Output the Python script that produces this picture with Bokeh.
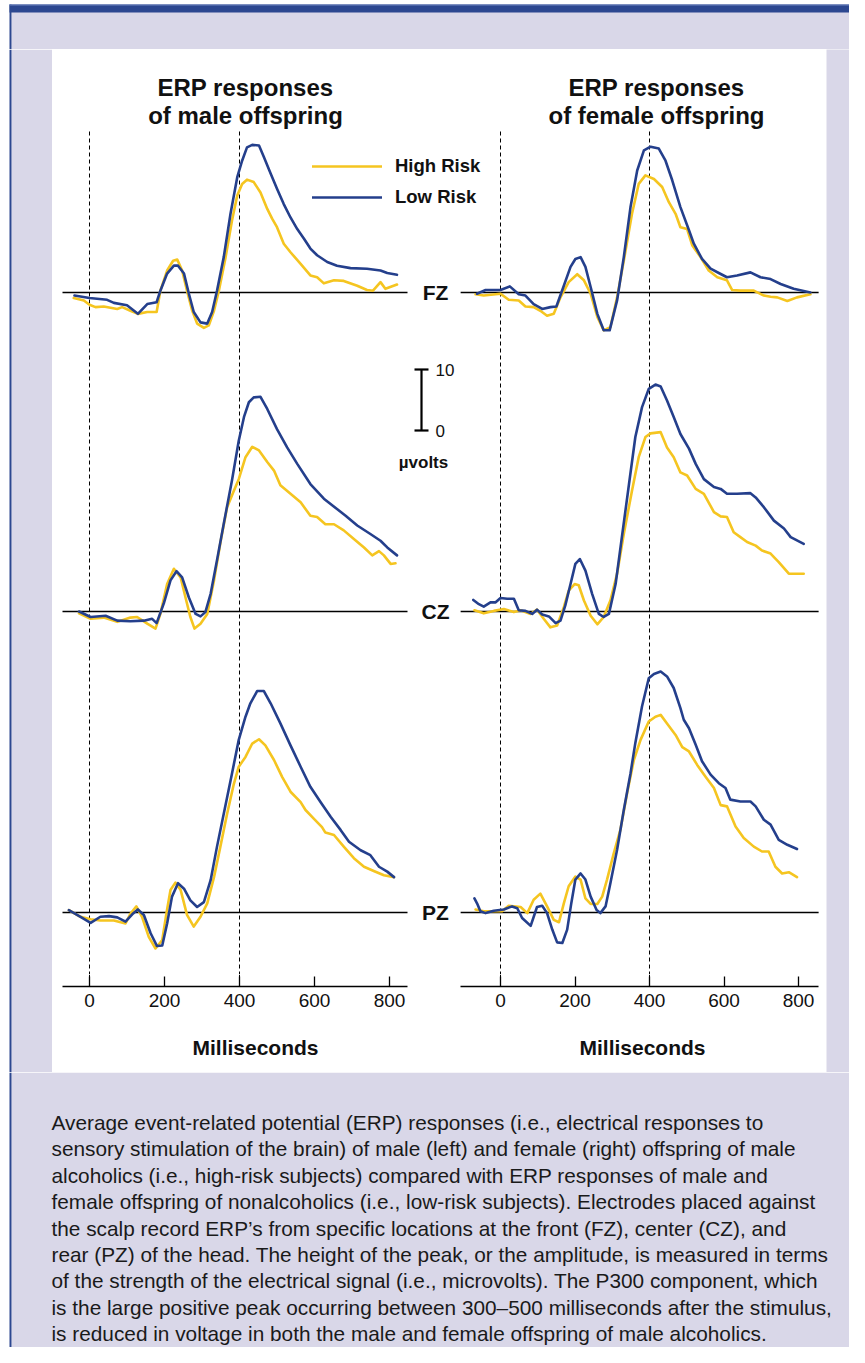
from bokeh.plotting import figure
from bokeh.models import Range1d, LinearAxis, FixedTicker, Legend, LegendItem, Span
from bokeh.layouts import column, row
from bokeh.embed import file_html
from bokeh.resources import INLINE
from bokeh.core.properties import value

# ---------------------------------------------------------------- data
TICKS_MS = [0, 200, 400, 600, 800]
MARKERS_MS = [0, 400]
ELECTRODES = ["FZ", "CZ", "PZ"]
GROUPS = ["High Risk", "Low Risk"]
TITLE_MALE = ["ERP responses", "of male offspring"]
TITLE_FEMALE = ["ERP responses", "of female offspring"]
SCALE_UV = [0, 10]
SCALE_LABELS = ["0", "10"]
UNIT_LABEL = "\u00b5volts"
X_LABEL = "Milliseconds"

male_fz_high_ms = [-42, -15, 0, 16, 38, 74, 87, 109, 129, 154, 179, 189, 207, 223, 234, 247, 260, 274, 287, 305,
                   318, 332, 345, 363, 380, 394, 407, 420, 438, 456, 474, 487, 500, 518, 536, 563, 589, 607, 625,
                   652, 678, 714, 740, 756, 776, 789, 820]
male_fz_high_uv = [-0.9, -1.3, -2.0, -2.4, -2.3, -2.7, -2.4, -3.0, -3.5, -3.2, -3.2, 0.3, 3.6, 5.2, 5.4, 3.6, 0.3,
                   -3.0, -5.1, -5.8, -5.4, -3.0, 0.3, 5.8, 11.8, 15.9, 17.8, 18.5, 18.1, 16.4, 13.7, 12.1, 10.7, 8.0,
                   6.6, 4.7, 2.8, 2.5, 1.5, 2.0, 1.9, 1.1, 0.4, 0.3, 1.7, 0.6, 1.3]
male_fz_low_ms = [-40, 0, 47, 65, 100, 129, 154, 179, 189, 207, 225, 236, 252, 265, 278, 296, 314, 327, 340, 358,
                  376, 394, 407, 420, 434, 452, 465, 483, 500, 518, 536, 554, 572, 589, 607, 634, 660, 696, 740,
                  776, 794, 820]
male_fz_low_uv = [-0.5, -0.9, -1.2, -1.7, -2.1, -3.5, -1.9, -1.6, 0.3, 3.1, 4.4, 4.4, 3.1, -0.2, -3.2, -4.9, -5.1,
                  -3.2, 0.3, 5.8, 12.9, 18.9, 21.6, 23.8, 24.2, 24.1, 22.2, 19.5, 17.0, 14.5, 12.3, 10.4, 8.8, 7.2,
                  6.1, 5.0, 4.4, 4.0, 3.9, 3.6, 3.2, 2.9]

female_fz_high_ms = [-67, -45, 0, 22, 49, 67, 89, 107, 125, 143, 161, 183, 206, 224, 242, 260, 277, 295, 313, 331,
                     353, 371, 389, 412, 434, 452, 470, 483, 501, 515, 537, 559, 582, 608, 622, 644, 680, 707, 725,
                     743, 770, 796, 832]
female_fz_high_uv = [-0.3, -0.5, -0.2, -1.2, -1.3, -2.3, -2.4, -3.0, -3.8, -3.5, -0.8, 1.7, 3.0, 2.0, -0.2, -4.0,
                     -6.2, -5.7, -0.8, 5.2, 12.9, 17.8, 19.2, 18.6, 17.3, 14.8, 12.9, 10.7, 10.4, 7.7, 5.8, 3.6, 2.5,
                     2.0, 0.4, 0.3, 0.3, -0.5, -0.7, -0.8, -1.4, -0.8, -0.3]
female_fz_low_ms = [-63, -40, 0, 25, 49, 67, 89, 112, 134, 150, 170, 188, 201, 215, 228, 242, 260, 277, 293, 313,
                    331, 349, 367, 385, 403, 425, 443, 461, 483, 506, 519, 541, 564, 586, 608, 635, 671, 698, 725,
                    752, 787, 832]
female_fz_low_uv = [-0.2, 0.4, 0.4, 1.0, -0.3, -0.5, -1.9, -2.7, -2.4, -2.3, 1.1, 4.2, 5.5, 5.8, 4.2, 0.9, -3.5,
                    -6.2, -6.2, -1.3, 5.8, 14.0, 20.0, 23.3, 23.9, 23.6, 21.6, 18.4, 14.0, 10.2, 8.0, 5.5, 3.9, 3.2,
                    2.5, 2.8, 3.3, 2.5, 2.2, 1.4, 0.6, 0.0]

male_cz_high_ms = [-28, 3, 38, 74, 109, 127, 154, 176, 189, 207, 225, 243, 256, 269, 280, 296, 314, 332, 350, 367,
                   385, 398, 416, 434, 452, 474, 492, 509, 536, 563, 589, 607, 629, 652, 678, 705, 732, 754, 772,
                   785, 803, 816]
male_cz_high_uv = [-0.3, -1.2, -1.0, -1.7, -1.0, -0.9, -2.0, -2.8, -0.4, 4.5, 7.0, 5.6, 2.3, -0.9, -2.8, -2.0, -0.4,
                   5.1, 11.6, 17.1, 19.8, 21.7, 25.3, 27.0, 26.4, 24.5, 23.1, 20.7, 19.3, 17.9, 15.7, 15.5, 14.3,
                   14.3, 13.3, 11.9, 10.5, 9.2, 9.9, 9.2, 7.8, 7.9]
male_cz_low_ms = [-28, 3, 43, 74, 109, 145, 167, 179, 198, 216, 232, 247, 265, 283, 296, 309, 323, 340, 358, 380,
                  398, 412, 425, 438, 456, 474, 500, 527, 554, 589, 625, 660, 683, 714, 749, 776, 794, 820]
male_cz_low_uv = [0.0, -0.9, -0.7, -1.5, -1.6, -1.5, -1.2, -1.9, 1.3, 5.1, 6.6, 5.6, 2.3, -0.4, -0.8, -0.1, 2.9,
                  8.4, 14.4, 21.5, 28.0, 31.9, 34.3, 35.1, 35.2, 33.2, 29.9, 26.9, 24.2, 20.9, 18.5, 16.8, 15.7,
                  14.1, 12.7, 11.6, 10.5, 9.2]

female_cz_high_ms = [-70, -45, -18, 9, 36, 54, 81, 98, 116, 134, 152, 170, 183, 199, 210, 224, 242, 260, 277, 295,
                     313, 331, 353, 371, 389, 403, 430, 447, 465, 483, 501, 524, 546, 573, 591, 608, 626, 644, 662,
                     685, 702, 725, 747, 774, 814]
female_cz_high_uv = [0.2, -0.3, 0.1, 0.4, -0.1, 0.2, -0.4, 0.3, -1.2, -2.6, -2.3, 0.7, 3.4, 4.5, 4.3, 1.8, -0.7,
                     -2.1, -0.9, 1.8, 6.2, 12.7, 19.8, 25.3, 28.6, 29.2, 29.4, 26.9, 25.3, 22.8, 22.3, 20.1, 19.3,
                     16.3, 15.6, 15.5, 13.0, 12.2, 11.4, 10.8, 10.0, 9.5, 8.1, 6.2, 6.2]
female_cz_low_ms = [-73, -58, -45, -27, -13, 0, 18, 36, 49, 67, 85, 98, 112, 130, 148, 161, 174, 188, 201, 213,
                    228, 246, 264, 277, 291, 309, 327, 345, 362, 380, 398, 416, 430, 447, 465, 483, 506, 524, 546,
                    573, 591, 608, 635, 671, 685, 707, 734, 761, 779, 814]
female_cz_low_uv = [1.9, 1.2, 0.8, 1.5, 1.5, 2.2, 2.1, 2.1, 0.2, 0.1, -0.4, 0.3, -0.5, -0.8, -1.9, -1.5, 1.0, 4.5,
                    7.8, 8.6, 6.7, 2.9, -0.4, -0.9, -0.4, 4.5, 12.7, 20.9, 28.6, 33.5, 36.5, 37.2, 36.9, 34.6, 31.9,
                    29.1, 26.7, 24.2, 21.7, 20.4, 20.1, 19.3, 19.3, 19.4, 18.7, 17.1, 14.9, 13.6, 12.2, 11.1]

male_pz_high_ms = [-55, -24, 3, 29, 65, 96, 109, 125, 140, 158, 176, 194, 205, 216, 229, 243, 260, 278, 296, 314,
                   332, 349, 367, 385, 398, 416, 434, 452, 469, 492, 514, 536, 563, 576, 598, 620, 629, 652, 678,
                   705, 732, 758, 785, 812]
male_pz_high_uv = [0.4, -0.7, -1.1, -1.3, -1.3, -1.8, -0.2, 1.0, -0.7, -4.0, -5.9, -4.5, -0.2, 3.7, 4.9, 3.7, -0.4,
                   -2.3, -0.7, 1.5, 5.8, 10.8, 16.2, 21.1, 23.9, 25.5, 27.7, 28.4, 27.4, 25.0, 22.2, 19.8, 18.1,
                   16.8, 15.4, 14.0, 13.1, 12.7, 10.8, 8.9, 7.5, 6.8, 6.1, 5.8]
male_pz_low_ms = [-55, -24, 3, 29, 52, 74, 96, 114, 129, 145, 163, 180, 194, 207, 220, 236, 252, 269, 287, 305,
                  323, 340, 358, 380, 398, 416, 429, 447, 465, 483, 509, 536, 563, 589, 616, 643, 670, 692, 723,
                  749, 772, 794, 812]
male_pz_low_uv = [0.4, -0.7, -1.7, -0.7, -0.6, -0.8, -1.5, -0.3, 0.5, -0.4, -3.4, -5.5, -5.4, -1.8, 2.6, 4.8, 3.9,
                  2.0, 0.9, 1.7, 5.3, 10.8, 16.2, 22.8, 28.3, 32.1, 34.3, 36.3, 36.3, 34.3, 31.0, 27.4, 23.9, 20.6,
                  18.1, 15.7, 13.5, 11.6, 10.2, 9.4, 7.5, 6.7, 5.8]

female_pz_high_ms = [-67, -45, -18, 4, 22, 54, 72, 89, 107, 125, 143, 157, 170, 183, 201, 215, 228, 242, 260, 273,
                     286, 304, 322, 340, 358, 376, 398, 416, 430, 447, 470, 488, 506, 528, 550, 573, 591, 608, 631,
                     653, 680, 702, 720, 738, 756, 774, 796]
female_pz_high_uv = [0.5, 0.2, 0.2, 0.2, 1.1, 0.9, -0.1, 2.1, 3.1, 1.0, -1.2, -1.6, 1.5, 4.3, 5.9, 5.4, 2.3, 1.4,
                     1.4, 2.6, 5.4, 9.7, 13.6, 19.6, 25.0, 28.3, 31.3, 32.1, 32.4, 31.0, 29.1, 27.1, 26.4, 24.2,
                     22.3, 20.4, 17.6, 17.4, 14.1, 12.2, 10.8, 10.0, 10.0, 7.5, 6.4, 6.6, 5.8]
female_pz_low_ms = [-70, -63, -54, -40, -18, 9, 31, 45, 58, 81, 98, 112, 125, 139, 152, 166, 179, 190, 201, 215,
                    228, 242, 258, 268, 282, 295, 313, 331, 349, 362, 380, 398, 412, 430, 447, 465, 483, 492, 506,
                    524, 541, 564, 586, 604, 617, 644, 671, 685, 707, 725, 747, 770, 796]
female_pz_low_uv = [2.3, 1.5, 0.2, -0.1, 0.3, 0.5, 1.0, 0.7, -0.9, -2.2, 0.9, 1.1, -0.1, -2.8, -4.9, -5.0, -2.8,
                    1.5, 5.4, 6.4, 5.4, 2.6, 0.4, -0.1, 1.0, 4.8, 10.3, 16.8, 22.8, 27.8, 33.8, 38.4, 39.1, 39.5,
                    38.7, 36.8, 33.5, 31.6, 30.2, 27.5, 24.8, 22.6, 21.2, 20.4, 18.5, 18.2, 18.2, 17.4, 15.2, 14.4,
                    11.9, 11.1, 10.4]

CAPTION_LINES = [
    "Average event-related potential (ERP) responses (i.e., electrical responses to",
    "sensory stimulation of the brain) of male (left) and female (right) offspring of male",
    "alcoholics (i.e., high-risk subjects) compared with ERP responses of male and",
    "female offspring of nonalcoholics (i.e., low-risk subjects). Electrodes placed against",
    "the scalp record ERP\u2019s from specific locations at the front (FZ), center (CZ), and",
    "rear (PZ) of the head. The height of the peak, or the amplitude, is measured in terms",
    "of the strength of the electrical signal (i.e., microvolts). The P300 component, which",
    "is the large positive peak occurring between 300\u2013500 milliseconds after the stimulus,",
    "is reduced in voltage in both the male and female offspring of male alcoholics.",
]

SERIES = {
    ("L", "FZ"): (male_fz_high_ms, male_fz_high_uv, male_fz_low_ms, male_fz_low_uv),
    ("L", "CZ"): (male_cz_high_ms, male_cz_high_uv, male_cz_low_ms, male_cz_low_uv),
    ("L", "PZ"): (male_pz_high_ms, male_pz_high_uv, male_pz_low_ms, male_pz_low_uv),
    ("R", "FZ"): (female_fz_high_ms, female_fz_high_uv, female_fz_low_ms, female_fz_low_uv),
    ("R", "CZ"): (female_cz_high_ms, female_cz_high_uv, female_cz_low_ms, female_cz_low_uv),
    ("R", "PZ"): (female_pz_high_ms, female_pz_high_uv, female_pz_low_ms, female_pz_low_uv),
}

# ---------------------------------------------------------------- style / layout (content pixels)
FONT = "Liberation Sans"
HIGH_COLOR = "#F5C520"
LOW_COLOR = "#243F8C"
LAVENDER = "#D9D7E8"
FRAME_BLUE = "#2C4790"
INK = "#111111"

PAGE_L, PAGE_R = 0, 849
PAGE_T, PAGE_B = 0, 1347
WHITE_L, WHITE_R = 52, 826
WHITE_T, WHITE_B = 49, 1072
SPLIT_X = 458          # boundary between the two axis figures
AXIS_Y = 986           # axis line
MAIN_B = 974           # bottom of main figure (axis frame 974..986)
PX_PER_UV = 6.1
COLS = {"L": (89.0, 0.375), "R": (500.0, 0.3725)}       # zero-ms pixel, px per ms
AX_BOUNDS = {"L": (-72, 848), "R": (-107, 854)}
BASELINE = {"FZ": 292, "CZ": 611, "PZ": 912, "SCALE": 430}


def ms_range(col, left_px, right_px):
    z, k = COLS[col]
    return Range1d((left_px - z) / k, (right_px - z) / k)


def uv_range(name, top_px, bottom_px):
    b = BASELINE[name]
    return Range1d((b - bottom_px) / PX_PER_UV, (b - top_px) / PX_PER_UV)


def make_fig(x0, x1, y0, y1, fill, x_range=None):
    f = figure(width=x1 - x0, height=y1 - y0,
               x_range=x_range if x_range is not None else Range1d(x0, x1),
               y_range=Range1d(y1, y0),
               output_backend="svg", toolbar_location=None,
               x_axis_type=None, y_axis_type=None, min_border=0)
    f.min_border_left = f.min_border_right = f.min_border_top = f.min_border_bottom = 0
    f.outline_line_color = None
    f.background_fill_color = fill
    f.border_fill_color = fill
    return f


def frame_decor(f, y0, y1, band=False):
    """lavender page with thin blue left rule (white margin outside)"""
    f.quad(left=[11], right=[PAGE_R], top=[y0], bottom=[y1], color=LAVENDER, line_color=None)
    f.quad(left=[9], right=[11], top=[y0], bottom=[y1], color=FRAME_BLUE, line_color=None)


# ---------------- top band
top = make_fig(PAGE_L, PAGE_R, PAGE_T, WHITE_T, "white")
frame_decor(top, 4, WHITE_T)
top.quad(left=[9], right=[PAGE_R], top=[4], bottom=[12], color=FRAME_BLUE, line_color=None)
top.quad(left=[9], right=[PAGE_R], top=[4], bottom=[5], color="#6F86BF", line_color=None)

# ---------------- side strips
lstrip = make_fig(PAGE_L, WHITE_L, WHITE_T, WHITE_B, "white")
frame_decor(lstrip, WHITE_T, WHITE_B)
rstrip = make_fig(WHITE_R, PAGE_R, WHITE_T, WHITE_B, LAVENDER)

# ---------------- main panel
main = make_fig(WHITE_L, WHITE_R, WHITE_T, MAIN_B, "white")
main.extra_x_ranges = {c: ms_range(c, WHITE_L, WHITE_R) for c in COLS}
main.extra_y_ranges = {n: uv_range(n, WHITE_T, MAIN_B) for n in BASELINE}

# dashed stimulus / 400 ms markers
for c in COLS:
    main.segment(x0=MARKERS_MS, x1=MARKERS_MS, y0=[131] * len(MARKERS_MS), y1=[MAIN_B] * len(MARKERS_MS),
                 x_range_name=c, line_color="black", line_width=1, line_dash="4 3")

legend_refs = {}
for (c, el), (hx, hy, lx, ly) in SERIES.items():
    lo, hi = AX_BOUNDS[c]
    main.segment(x0=[lo], x1=[hi], y0=[0], y1=[0], x_range_name=c, y_range_name=el,
                 line_color="black", line_width=1.3)
    rh = main.line(hx, hy, x_range_name=c, y_range_name=el, line_color=HIGH_COLOR, line_width=2.6,
                   line_join="round", line_cap="round")
    rl = main.line(lx, ly, x_range_name=c, y_range_name=el, line_color=LOW_COLOR, line_width=2.6,
                   line_join="round", line_cap="round")
    legend_refs.setdefault(GROUPS[0], rh)
    legend_refs.setdefault(GROUPS[1], rl)

# electrode labels
for el in ELECTRODES:
    main.text(x=[435], y=[0], text=[el], y_range_name=el, text_font=value(FONT), text_font_size="21px",
              text_font_style="bold", text_align="center", text_baseline="middle", text_color=INK)

# titles
for cx, lines in ((245, TITLE_MALE), (656, TITLE_FEMALE)):
    main.text(x=[cx] * len(lines), y=[87 + 28 * i for i in range(len(lines))], text=lines,
              text_font=value(FONT), text_font_size="24px", text_font_style="bold",
              text_align="center", text_baseline="alphabetic", text_color=INK)

# scale bar (10 microvolts)
main.segment(x0=[421], x1=[421], y0=[SCALE_UV[0]], y1=[SCALE_UV[1]], y_range_name="SCALE",
             line_color="black", line_width=2.2)
main.segment(x0=[414] * 2, x1=[428] * 2, y0=SCALE_UV, y1=SCALE_UV, y_range_name="SCALE",
             line_color="black", line_width=2.2)
main.text(x=[435] * 2, y=SCALE_UV, text=SCALE_LABELS, y_range_name="SCALE", text_font=value(FONT),
          text_font_size="17px", text_align="left", text_baseline="middle", text_color=INK)
main.text(x=[423], y=[462], text=[UNIT_LABEL], text_font=value(FONT), text_font_size="17px",
          text_font_style="bold", text_align="center", text_baseline="middle", text_color=INK)

legend = Legend(items=[LegendItem(label=g, renderers=[legend_refs[g]]) for g in GROUPS],
                location=(312 - WHITE_L, MAIN_B - 208), glyph_width=70, glyph_height=20, spacing=9,
                label_standoff=13, padding=0, margin=0, border_line_color=None, background_fill_alpha=0,
                label_text_font=FONT, label_text_font_size="18.5px", label_text_font_style="bold",
                label_text_color=INK)
main.add_layout(legend)


# ---------------- x axes
def axis_fig(c, x0, x1):
    f = make_fig(x0, x1, MAIN_B, WHITE_B, "white", x_range=ms_range(c, x0, x1))
    f.y_range = Range1d(0, 1)
    f.min_border_bottom = WHITE_B - AXIS_Y
    ax = LinearAxis(ticker=FixedTicker(ticks=TICKS_MS), bounds=AX_BOUNDS[c], axis_label=X_LABEL)
    ax.axis_line_color = "black"
    ax.axis_line_width = 1.3
    ax.major_tick_in = 10
    ax.major_tick_out = 0
    ax.major_tick_line_width = 1.3
    ax.minor_tick_line_color = None
    ax.major_label_text_font = FONT
    ax.major_label_text_font_size = "19px"
    ax.major_label_text_color = INK
    ax.major_label_standoff = 7
    ax.axis_label_text_font = FONT
    ax.axis_label_text_font_size = "21px"
    ax.axis_label_text_font_style = "bold"
    ax.axis_label_text_color = INK
    ax.axis_label_standoff = 26
    f.add_layout(ax, "below")
    for m in MARKERS_MS:
        f.add_layout(Span(location=m, dimension="height", line_color="black", line_width=1, line_dash="4 3"))
    return f


axL = axis_fig("L", WHITE_L, SPLIT_X)
axR = axis_fig("R", SPLIT_X, WHITE_R)

# ---------------- caption
cap = make_fig(PAGE_L, PAGE_R, WHITE_B, PAGE_B, "white")
frame_decor(cap, WHITE_B, PAGE_B)
cap.text(x=[51] * len(CAPTION_LINES), y=[1122 + 26.4 * i for i in range(len(CAPTION_LINES))],
         text=CAPTION_LINES, text_font=value(FONT), text_font_size="20.8px", text_align="left",
         text_baseline="alphabetic", text_color="#1A1A1A")

layout = column(top,
                row(lstrip, column(main, row(axL, axR)), rstrip),
                cap)

open("out.html", "w").write(file_html(layout, INLINE))
